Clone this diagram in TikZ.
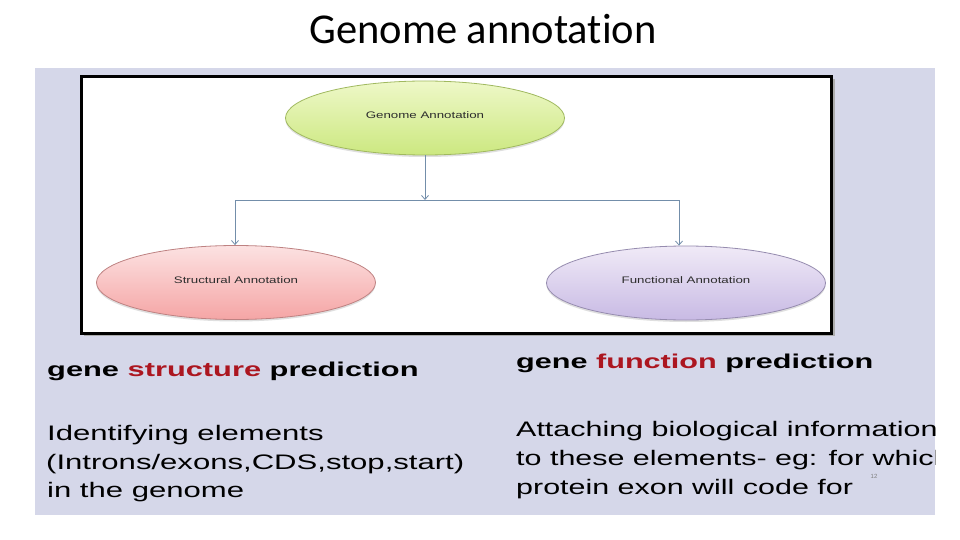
\documentclass[tikz,border=0pt]{standalone}
\usepackage{fontspec}
\setmainfont{Liberation Sans}
\newfontfamily\titlefont[Ligatures=NoCommon]{Carlito}
\usetikzlibrary{shapes.geometric,arrows.meta,shadows}
\definecolor{lav}{RGB}{213,215,233}
\definecolor{redw}{RGB}{172,22,32}
\definecolor{connc}{RGB}{115,142,170}
\definecolor{etext}{RGB}{45,45,45}
\definecolor{gtop}{RGB}{238,248,200}
\definecolor{gbot}{RGB}{204,232,128}
\definecolor{gbrd}{RGB}{160,185,95}
\definecolor{rtop}{RGB}{252,226,226}
\definecolor{rbot}{RGB}{245,165,165}
\definecolor{rbrd}{RGB}{190,130,130}
\definecolor{ptop}{RGB}{240,234,247}
\definecolor{pbot}{RGB}{200,186,228}
\definecolor{pbrd}{RGB}{150,140,175}
\begin{document}
\begin{tikzpicture}[x=1pt,y=-1pt,
  ell/.style={ellipse, line width=0.8pt, minimum width=279pt, minimum height=74pt, inner sep=0pt,
    text=etext, font=\fontsize{9.5}{9.5}\selectfont,
    drop shadow={shadow xshift=0pt, shadow yshift=-2pt, opacity=0.25}},
  conn/.style={draw=connc, line width=0.8pt},
  arr/.style={-{Straight Barb[length=4pt,width=7pt]}},
  hd/.style={anchor=base west, inner sep=0pt, font=\bfseries\fontsize{20}{20}\selectfont},
  txt/.style={anchor=base west, inner sep=0pt, font=\fontsize{21}{21}\selectfont}]
\useasboundingbox (0,0) rectangle (960,540);
\fill[white] (0,0) rectangle (960,540);
\node[anchor=base, inner sep=0pt, font=\titlefont\fontsize{42.5}{42.5}\selectfont] (title) at (483,44) {Genome annotation};
\fill[lav] (35,68) rectangle (935,515);
\fill[gray!65] (84,79) rectangle (834.5,336);
\draw[line width=3pt, fill=white] (81.5,76.5) rectangle (831.5,333.5);
% ellipses
\node[ell, draw=gbrd, top color=gtop, bottom color=gbot] (g) at (425,118) {\raisebox{5pt}{\scalebox{1.4}[1]{Genome Annotation}}};
\node[ell, draw=rbrd, top color=rtop, bottom color=rbot] (s) at (236,282.5) {\raisebox{5pt}{\scalebox{1.4}[1]{Structural Annotation}}};
\node[ell, draw=pbrd, top color=ptop, bottom color=pbot] (f) at (686,283) {\raisebox{5pt}{\scalebox{1.4}[1]{Functional Annotation}}};
% connectors
\coordinate (hl) at (235,200);
\coordinate (hr) at (679,200);
\draw[conn, arr] (g.south) -- (g.south |- hl);
\draw[conn] (hl) -- (hr);
\draw[conn, arr] (hl) -- (hl |- s.north);
\draw[conn, arr] (hr) -- (hr |- f.north);
% texts
\node[hd] (lh) at (47,376) {\scalebox{1.54}[1]{gene \textcolor{redw}{structure} prediction}};
\node[hd] (rh) at (516,368) {\scalebox{1.53}[1]{gene \textcolor{redw}{function} prediction}};
\node[txt] (l1) at (47,440) {\scalebox{1.48}[1]{Identifying elements}};
\node[txt] (l2) at (46,469) {\scalebox{1.48}[1]{(Introns/exons,CDS,stop,start)}};
\node[txt] (l3) at (47,497) {\scalebox{1.48}[1]{in the genome}};
\begin{scope}
\clip (35,68) rectangle (935,515);
\node[txt] (r1) at (516,436) {\scalebox{1.45}[1]{Attaching biological information}};
\node[txt] (r2) at (516,465.5) {\scalebox{1.45}[1]{to these elements- eg: for which}};
\node[txt] (r3) at (516,494) {\scalebox{1.45}[1]{protein exon will code for}};
\end{scope}
\node[inner sep=0pt, text=gray, font=\fontsize{6}{6}\selectfont] (pg) at (874,476) {12};
\end{tikzpicture}
\end{document}
